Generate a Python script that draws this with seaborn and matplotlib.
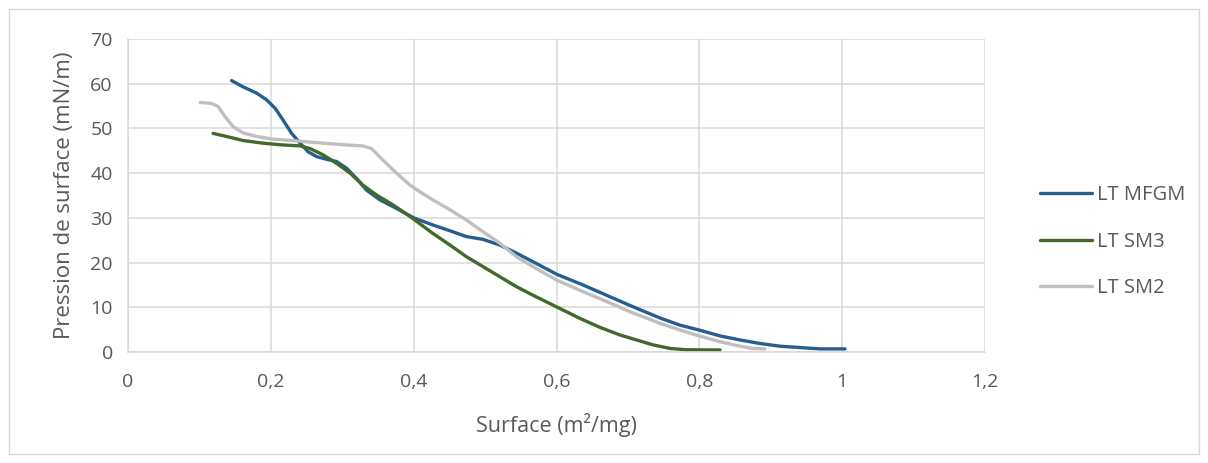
import matplotlib
matplotlib.use("Agg")
import matplotlib.pyplot as plt
from matplotlib.patches import Rectangle
import numpy as np
import pandas as pd
import seaborn as sns

# Surface pressure isotherms (Langmuir trough)
mfgm_area = [0.145, 0.161, 0.180, 0.194, 0.206, 0.217, 0.229, 0.241, 0.252, 0.264,
             0.278, 0.292, 0.306, 0.320, 0.334, 0.353, 0.376, 0.400, 0.427, 0.451,
             0.474, 0.497, 0.521, 0.544, 0.567, 0.600, 0.637, 0.670, 0.703, 0.745,
             0.773, 0.800, 0.829, 0.857, 0.885, 0.913, 0.941, 0.969, 1.004]
mfgm_pressure = [60.7, 59.3, 57.9, 56.4, 54.5, 51.9, 48.9, 46.7, 44.8, 43.7,
                 43.1, 42.6, 41.1, 38.8, 36.2, 34.0, 32.1, 30.0, 28.4, 27.1,
                 25.8, 25.2, 23.9, 22.1, 20.2, 17.4, 15.0, 12.7, 10.4, 7.6,
                 6.0, 4.9, 3.6, 2.7, 1.9, 1.3, 1.0, 0.7, 0.7]

sm3_area = [0.119, 0.138, 0.161, 0.189, 0.217, 0.241, 0.255, 0.273, 0.292, 0.311,
            0.329, 0.348, 0.371, 0.395, 0.427, 0.451, 0.474, 0.497, 0.521, 0.544,
            0.567, 0.600, 0.633, 0.661, 0.689, 0.712, 0.735, 0.759, 0.782, 0.829]
sm3_pressure = [48.9, 48.2, 47.3, 46.7, 46.3, 46.1, 45.5, 44.1, 42.2, 40.0,
                37.3, 35.1, 32.9, 30.3, 26.5, 23.9, 21.3, 19.1, 16.8, 14.6,
                12.7, 10.1, 7.5, 5.5, 3.8, 2.7, 1.6, 0.8, 0.5, 0.45]

sm2_area = [0.101, 0.117, 0.126, 0.136, 0.147, 0.161, 0.180, 0.203, 0.236, 0.273,
            0.306, 0.329, 0.341, 0.357, 0.376, 0.395, 0.409, 0.427, 0.451, 0.474,
            0.497, 0.521, 0.544, 0.567, 0.600, 0.637, 0.670, 0.703, 0.745, 0.773,
            0.800, 0.829, 0.857, 0.875, 0.892]
sm2_pressure = [55.8, 55.6, 54.9, 52.6, 50.4, 49.0, 48.2, 47.6, 47.2, 46.7,
                46.3, 46.1, 45.5, 42.9, 40.0, 37.3, 35.8, 34.0, 31.8, 29.5,
                26.9, 24.3, 21.3, 19.1, 16.1, 13.5, 11.3, 9.0, 6.4, 4.9,
                3.6, 2.3, 1.3, 0.8, 0.7]

series_names = ["LT MFGM", "LT SM3", "LT SM2"]
series_colors = ["#255E91", "#43682B", "#BFBFBF"]
x_ticks = [0, 0.2, 0.4, 0.6, 0.8, 1.0, 1.2]
x_tick_labels = ["0", "0,2", "0,4", "0,6", "0,8", "1", "1,2"]
y_ticks = [0, 10, 20, 30, 40, 50, 60, 70]

frames = []
for name, xs, ys in zip(series_names,
                        [mfgm_area, sm3_area, sm2_area],
                        [mfgm_pressure, sm3_pressure, sm2_pressure]):
    frames.append(pd.DataFrame({"area": xs, "pressure": ys, "serie": name,
                                "order": np.arange(len(xs))}))
df = pd.concat(frames, ignore_index=True)

sns.set_theme(style="white")
plt.rcParams["font.family"] = ["Open Sans", "DejaVu Sans"]
text_color = "#595959"
grid_color = "#D9D9D9"

fig = plt.figure(figsize=(12.08, 4.63), dpi=100)
ax = fig.add_axes([0.106, 0.2397, 0.7094, 0.6761])

sns.lineplot(data=df, x="area", y="pressure", hue="serie", hue_order=series_names,
             palette=series_colors, sort=False, estimator=None, units="serie",
             linewidth=2.4, ax=ax, legend=True)
for line in ax.lines:
    line.set_solid_capstyle("round")
    line.set_solid_joinstyle("round")

ax.set_xlim(0, 1.2)
ax.set_ylim(0, 70)
ax.set_xticks(x_ticks)
ax.set_xticklabels(x_tick_labels)
ax.set_yticks(y_ticks)

ax.grid(True, color=grid_color, linewidth=1.1)
ax.set_axisbelow(True)
for side in ["top", "right"]:
    ax.spines[side].set_visible(False)
for side in ["left", "bottom"]:
    ax.spines[side].set_color(grid_color)
    ax.spines[side].set_linewidth(1.1)

ax.tick_params(axis="both", which="major", direction="out", length=5, width=1.1,
               color=grid_color, labelcolor=text_color, labelsize=14, pad=6)
ax.tick_params(axis="x", pad=10)

ax.set_xlabel("Surface (m²/mg)", fontsize=15.5, color=text_color, labelpad=16)
ax.set_ylabel("Pression de surface (mN/m)", fontsize=16, color=text_color, labelpad=11)

leg = ax.legend(loc="upper left", bbox_to_anchor=(1.064, 0.532), frameon=False,
                fontsize=14.5, handlelength=2.6, handletextpad=0.25, labelspacing=1.3,
                borderaxespad=0, borderpad=0)
for t in leg.get_texts():
    t.set_color(text_color)
for h in leg.get_lines():
    h.set_linewidth(2.4)

fig.patches.append(Rectangle((9 / 1208, 9 / 463), 1 - 18 / 1208, 1 - 18 / 463,
                             transform=fig.transFigure, fill=False,
                             edgecolor="#D9D9D9", linewidth=1.0))

fig.savefig("out.png", dpi=100)
